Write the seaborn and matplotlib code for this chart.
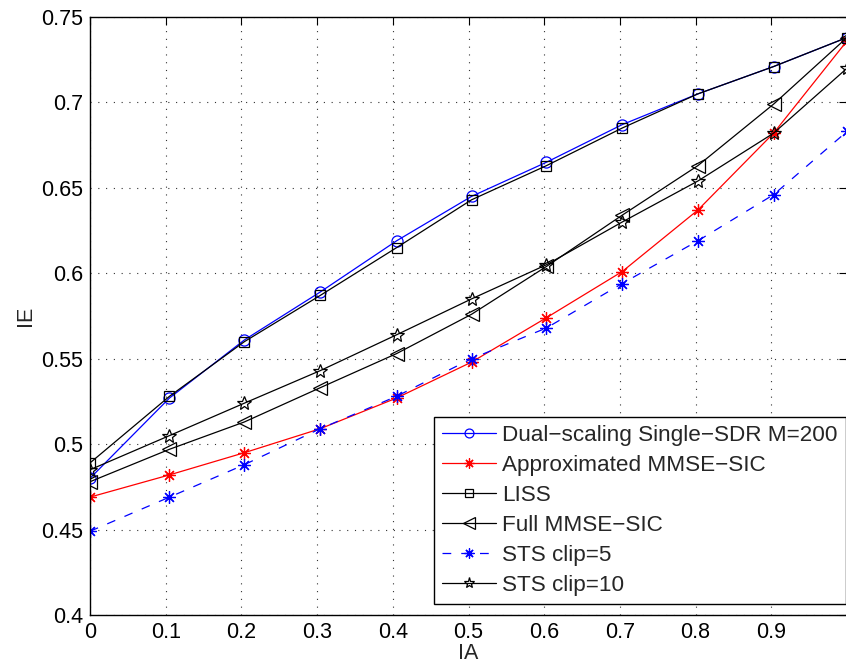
import numpy as np
import pandas as pd
import seaborn as sns
import matplotlib.pyplot as plt

# %% data
ia = [0, 0.105, 0.204, 0.304, 0.405, 0.504, 0.603, 0.703, 0.803, 0.903, 1.0]
dual_sdr = [0.480, 0.527, 0.561, 0.589, 0.619, 0.645, 0.665, 0.687, 0.705, 0.721, 0.738]
approx_mmse = [0.469, 0.482, 0.495, 0.509, 0.527, 0.548, 0.574, 0.601, 0.637, 0.682, 0.736]
liss = [0.489, 0.528, 0.560, 0.587, 0.615, 0.643, 0.663, 0.685, 0.705, 0.721, 0.738]
full_mmse = [0.478, 0.497, 0.513, 0.533, 0.553, 0.576, 0.604, 0.634, 0.663, 0.699, 0.738]
sts_clip5 = [0.449, 0.469, 0.488, 0.509, 0.528, 0.550, 0.568, 0.594, 0.619, 0.646, 0.683]
sts_clip10 = [0.485, 0.505, 0.524, 0.543, 0.564, 0.585, 0.605, 0.630, 0.654, 0.682, 0.720]

labels = ["Dual\u2212scaling Single\u2212SDR M=200", "Approximated MMSE\u2212SIC", "LISS",
          "Full MMSE\u2212SIC", "STS clip=5", "STS clip=10"]
xticks = [0, 0.1, 0.2, 0.3, 0.4, 0.5, 0.6, 0.7, 0.8, 0.9]
yticks = [0.4, 0.45, 0.5, 0.55, 0.6, 0.65, 0.7, 0.75]
ytick_labels = ["0.4", "0.45", "0.5", "0.55", "0.6", "0.65", "0.7", "0.75"]

# %% plot
sns.set_theme(style="white")
plt.rcParams['font.family'] = ['Liberation Sans', 'DejaVu Sans']

fig = plt.figure(figsize=(8.46, 6.67), dpi=100)
ax = fig.add_axes([90 / 846, 1 - 615 / 667, 757 / 846, 598 / 667])

series = [dual_sdr, approx_mmse, liss, full_mmse, sts_clip5, sts_clip10]
colors = ["#0000ff", "#ff0000", "black", "black", "#0000ff", "black"]
markers = ["o", (8, 2, 0), "s", "<", (8, 2, 0), "*"]
msizes = [8, 9, 7, 10, 9, 10]
styles = ["-", "-", "-", "-", (0, (7, 8)), "-"]

for y, lab, c, m, ms, ls in zip(series, labels, colors, markers, msizes, styles):
    sns.lineplot(x=ia, y=y, ax=ax, label=lab, color=c, marker=m, markersize=ms,
                 linestyle=ls, linewidth=0.9, markerfacecolor="none",
                 markeredgecolor=c, markeredgewidth=0.9)

ax.set_xlim(0, 1)
ax.set_ylim(0.4, 0.75)
ax.set_xticks(xticks)
ax.set_xticklabels([f"{t:g}" for t in xticks])
ax.set_yticks(yticks)
ax.set_yticklabels(ytick_labels)
ax.tick_params(direction="in", length=6, width=0.8, top=True, right=True,
               labelsize=15.5, colors="black", pad=5)
for s in ax.spines.values():
    s.set_color("black")
    s.set_linewidth(1.0)
ax.grid(True, color="#333333", linestyle=(0, (1, 6)), linewidth=0.8)

ax.set_xlabel("IA", fontsize=15.5, labelpad=0)
ax.set_ylabel("IE", fontsize=15.5, labelpad=4)

leg = ax.legend(loc="lower right", bbox_to_anchor=(0.9985, 0.018), fontsize=16.2,
                frameon=True, fancybox=False, edgecolor="black", framealpha=1,
                borderpad=0.35, labelspacing=0.4, handlelength=2.4, handletextpad=0.3,
                borderaxespad=0, markerscale=0.8)
leg.get_frame().set_linewidth(1.0)

plt.savefig("out.png", dpi=100)
